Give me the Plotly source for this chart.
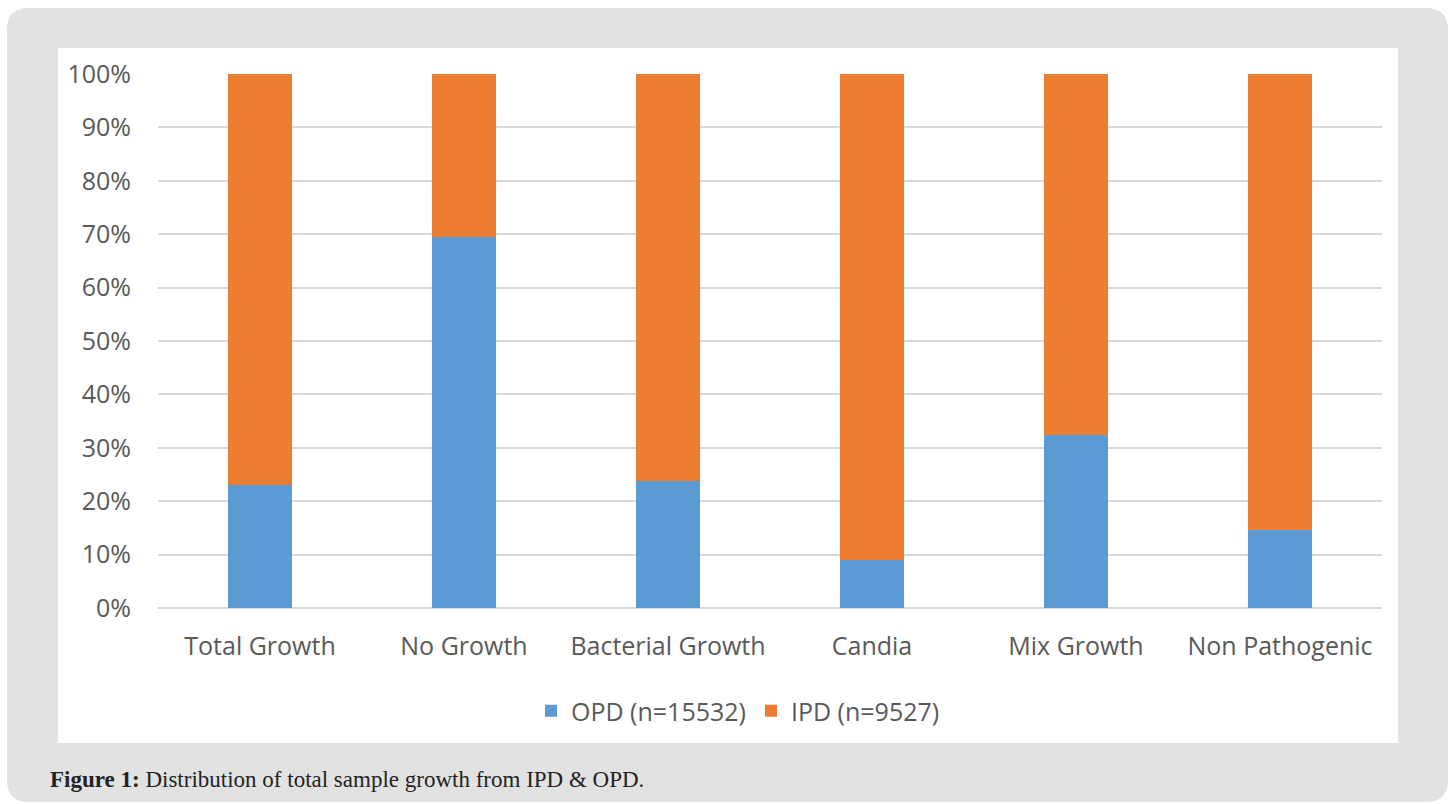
import plotly.graph_objects as go

categories = ["Total Growth", "No Growth", "Bacterial Growth", "Candia", "Mix Growth", "Non Pathogenic"]
opd_share = [23.0, 69.5, 23.8, 8.9, 32.4, 14.6]
ipd_share = [100 - v for v in opd_share]
opd_name = "OPD (n=15532)"
ipd_name = "IPD (n=9527)"
y_ticks = [0, 10, 20, 30, 40, 50, 60, 70, 80, 90, 100]
caption_bold = "Figure 1:"
caption_text = "Distribution of total sample growth from IPD & OPD."

W, H = 1450, 804
L, R, T, B = 158, 1382, 74, 608  # plot area in pixels


def px(x):
    return (x - L) / (R - L)


def py(y):
    return (B - y) / (B - T)


def rounded_rect(x0, y0, x1, y1, r):
    return (
        f"M{px(x0 + r)},{py(y0)} L{px(x1 - r)},{py(y0)} "
        f"Q{px(x1)},{py(y0)} {px(x1)},{py(y0 + r)} "
        f"L{px(x1)},{py(y1 - r)} Q{px(x1)},{py(y1)} {px(x1 - r)},{py(y1)} "
        f"L{px(x0 + r)},{py(y1)} Q{px(x0)},{py(y1)} {px(x0)},{py(y1 - r)} "
        f"L{px(x0)},{py(y0 + r)} Q{px(x0)},{py(y0)} {px(x0 + r)},{py(y0)} Z"
    )


fig = go.Figure()
fig.add_trace(go.Bar(x=categories, y=opd_share, name=opd_name,
                     marker=dict(color="#5b9bd5", line=dict(width=0))))
fig.add_trace(go.Bar(x=categories, y=ipd_share, name=ipd_name,
                     marker=dict(color="#ed7d31", line=dict(width=0))))

font_main = "Open Sans, Arial, sans-serif"

fig.update_layout(
    width=W, height=H,
    barmode="stack",
    bargap=0.69,
    margin=dict(l=L, r=W - R, t=T, b=H - B, pad=0),
    paper_bgcolor="white",
    plot_bgcolor="rgba(0,0,0,0)",
    font=dict(family=font_main, color="#595959"),
    showlegend=True,
    legend=dict(orientation="h", x=px(738), xanchor="center", y=py(711), yanchor="middle",
                font=dict(size=25, color="#595959"), traceorder="normal",
                itemwidth=30, bgcolor="rgba(0,0,0,0)"),
    xaxis=dict(showgrid=False, showline=False, zeroline=False, ticks="",
               tickfont=dict(size=25, color="#595959"), ticklabelstandoff=21),
    yaxis=dict(range=[0, 100], tickvals=y_ticks, ticktext=[f"{v}%" for v in y_ticks],
               showgrid=True, gridcolor="#d9d9d9", gridwidth=1.5,
               zeroline=True, zerolinecolor="#d9d9d9", zerolinewidth=1.5,
               showline=False, ticks="", tickfont=dict(size=25, color="#595959"),
               ticklabelstandoff=26),
    shapes=[
        dict(type="path", xref="paper", yref="paper", layer="below",
             path=rounded_rect(7, 8, 1448, 802, 22), fillcolor="#e2e2e2", line=dict(width=0)),
        dict(type="rect", xref="paper", yref="paper", layer="below",
             x0=px(58), x1=px(1398), y0=py(743), y1=py(48), fillcolor="white", line=dict(width=0)),
    ],
    annotations=[
        dict(xref="paper", yref="paper", x=px(48), y=py(779), xanchor="left", yanchor="middle",
             showarrow=False, text=f"<b>{caption_bold}</b> {caption_text}",
             font=dict(family="Liberation Serif, DejaVu Serif, serif", size=23, color="#222222")),
    ],
)

fig.write_html("out.html")
